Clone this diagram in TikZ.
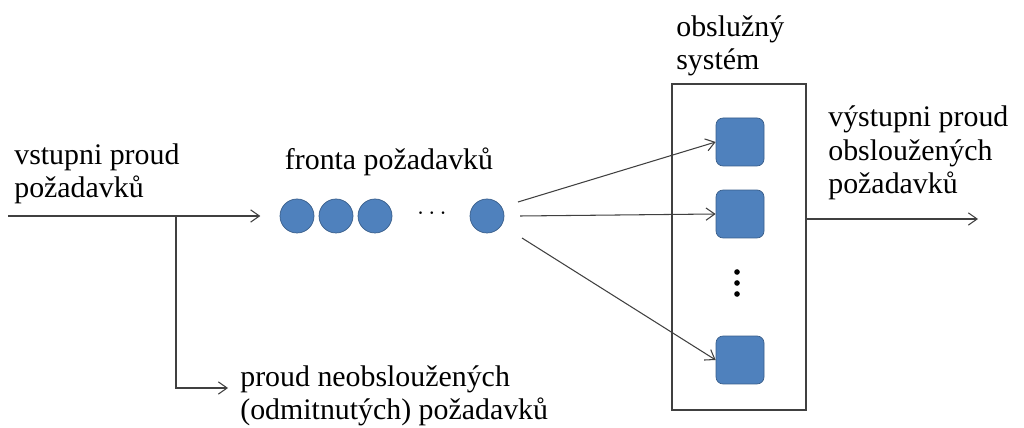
\documentclass[tikz,border=0pt]{standalone}
\usepackage{fontspec}
\setmainfont{Liberation Serif}
\usepackage{tikz}
\usetikzlibrary{calc, arrows.meta}
\definecolor{queueFill}{HTML}{4F81BD}
\definecolor{queueFrame}{HTML}{385D8A}
\definecolor{lineGray}{HTML}{404040}

\begin{document}
\begin{tikzpicture}[x=0.02cm, y=-0.02cm,
    txt/.style={inner sep=0pt, align=left, font=\fontsize{17}{19}\selectfont},
    req/.style={circle, draw=queueFrame, fill=queueFill, minimum size=0.68cm, inner sep=0pt},
    srv/.style={rectangle, rounded corners=4pt, draw=queueFrame, fill=queueFill, minimum size=0.96cm, inner sep=0pt},
    flow/.style={draw=lineGray, line width=0.6pt, -{Straight Barb[length=5pt, width=7pt]}}]
    \useasboundingbox (0,0) rectangle (1024,428);
    % fronta
    \node[req] (c1) at (297,216) {};
    \node[req] (c2) at (336,216) {};
    \node[req] (c3) at (375,216) {};
    \node (hdots) at (432,214) {\Large$\cdots$};
    \node[req] (c4) at (487,216) {};
    \node[txt, anchor=center] (ftext) at (389,162) {fronta požadavků};
    % obsluzny system
    \node[draw=lineGray, line width=0.8pt, minimum width=2.68cm, minimum height=6.52cm] (sys) at (739,247) {};
    \node[srv] (s1) at (740,142) {};
    \node[srv] (s2) at (740,214) {};
    \foreach \y in {272,283,294}
        \fill[black] (737,\y) circle (1.6pt);
    \node[srv] (s3) at (740,360) {};
    \node[txt, anchor=west] (stext) at (676,46) {obslužný\\systém};
    % vstup
    \coordinate (in) at (8,216);
    \coordinate (br) at (176,216);
    \coordinate (rej) at (228,388);
    \draw[flow, shorten >=11pt] (in) -- (c1.west);
    \draw[flow] (br) |- (rej);
    \node[txt, anchor=west] (intext) at (14,174) {vstupni proud\\požadavků};
    \node[txt, anchor=west] (rejtext) at (240,396) {proud neobsloužených\\(odmitnutých) požadavků};
    % rozdeleni
    \coordinate (q1) at (518,202);
    \coordinate (q2) at (520,216);
    \coordinate (q3) at (522,238);
    \draw[flow] (q1) -- (s1.west);
    \draw[flow] (q2) -- (s2.west);
    \draw[flow] (q3) -- (s3.west);
    % vystup
    \coordinate (out) at (978,219);
    \draw[flow] (sys.east |- out) -- (out);
    \node[txt, anchor=west] (outtext) at (828,153) {výstupni proud\\obsloužených\\požadavků};
\end{tikzpicture}
\end{document}
